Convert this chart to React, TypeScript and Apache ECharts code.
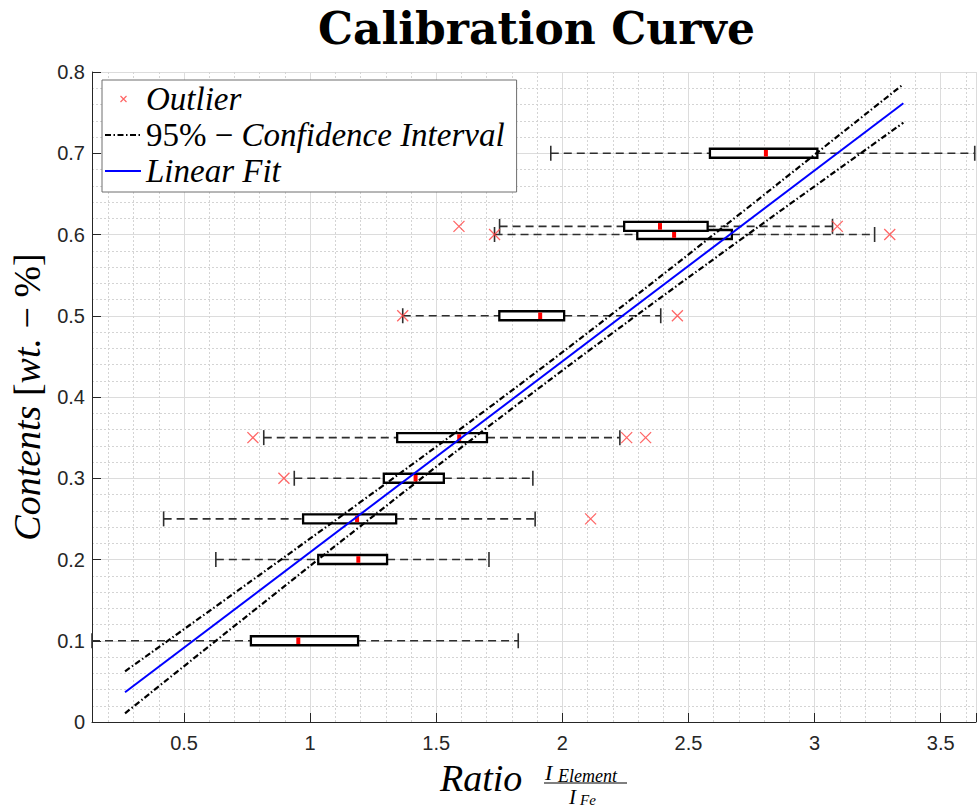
import React, { useEffect, useRef } from "react";
import * as echarts from "echarts";

// ---- data ----
const levels = [0.1, 0.2, 0.25, 0.3, 0.35, 0.5, 0.6, 0.61, 0.7];
const whiskerLow = [0.135, 0.626, 0.419, 0.937, 0.816, 1.367, 1.731, 1.751, 1.954];
const q1 = [0.765, 1.032, 0.972, 1.292, 1.345, 1.75, 2.297, 2.245, 2.585];
const medians = [0.953, 1.191, 1.186, 1.418, 1.591, 1.912, 2.443, 2.387, 2.807];
const q3 = [1.19, 1.305, 1.341, 1.53, 1.701, 2.007, 2.672, 2.576, 3.011];
const whiskerHigh = [1.825, 1.709, 1.892, 1.883, 2.228, 2.39, 3.238, 3.071, 3.635];

const outlierX = [0.773, 2.255, 2.33, 0.896, 2.112, 1.367, 2.456, 1.731, 3.298, 1.59, 3.09];
const outlierY = [0.35, 0.35, 0.35, 0.3, 0.25, 0.5, 0.5, 0.6, 0.6, 0.61, 0.61];

const fitX = [0.266, 3.352];
const fitY = [0.0366, 0.7615];

const ciX = [0.266, 0.7, 1.2, 1.7, 2.2, 2.7, 3.0, 3.352];
const ciUpper = [0.0624, 0.1588, 0.2708, 0.3848, 0.5028, 0.6244, 0.6983, 0.785];
const ciLower = [0.0107, 0.1182, 0.2412, 0.362, 0.479, 0.5922, 0.6593, 0.7376];

const xTickLabels = [0.5, 1, 1.5, 2, 2.5, 3, 3.5];
const yTickLabels = [0, 0.1, 0.2, 0.3, 0.4, 0.5, 0.6, 0.7, 0.8];

const NAME_OUTLIER = "Outlier";
const NAME_CI = "95% − Confidence Interval";
const NAME_FIT = "Linear Fit";

const SERIF = "'Liberation Serif', 'DejaVu Serif', serif";
const SANS = "'Liberation Sans', Arial, Helvetica, sans-serif";

export default function App() {
  const ref = useRef<HTMLDivElement>(null);

  useEffect(() => {
    if (!ref.current) return;
    const chart = echarts.init(ref.current, null, { renderer: "svg" });

    const boxData = levels.map((l, i) => [l, whiskerLow[i], q1[i], medians[i], q3[i], whiskerHigh[i]]);
    const outlierData = outlierX.map((x, i) => [x, outlierY[i]]);
    const fitData = fitX.map((x, i) => [x, fitY[i]]);
    const ciUpData = ciX.map((x, i) => [x, ciUpper[i]]);
    const ciLoData = ciX.map((x, i) => [x, ciLower[i]]);

    const isTick = (v: number, list: number[]) => list.some((t) => Math.abs(t - v) < 1e-6);

    const whiskerStyle = { stroke: "#2e2e2e", lineWidth: 1.6, lineDash: [8, 5] };
    const capStyle = { stroke: "#2e2e2e", lineWidth: 1.6 };
    const ciLine = { color: "#000000", width: 2.2, type: [6, 2.5, 1.5, 2.5] };

    const option: any = {
      animation: false,
      backgroundColor: "#ffffff",
      title: {
        text: "Calibration Curve",
        left: 531.5,
        top: 1,
        textAlign: "center",
        textStyle: {
          fontFamily: "'DejaVu Serif', serif",
          fontWeight: "bold",
          fontSize: 44,
          color: "#000000",
        },
      },
      grid: { left: 92, right: 1, top: 72, bottom: 85, containLabel: false },
      legend: {
        orient: "vertical",
        left: 102,
        top: 80,
        padding: [1, 12, 3, 2],
        itemGap: 0,
        itemWidth: 36,
        itemHeight: 14,
        backgroundColor: "#ffffff",
        borderColor: "#6e6e6e",
        borderWidth: 1,
        borderRadius: 0,
        selectedMode: false,
        data: [
          {
            name: NAME_OUTLIER,
            icon: "path://M0,0M36,14M15.5,4L21.5,10M21.5,4L15.5,10",
            itemStyle: { color: "rgba(0,0,0,0)", borderColor: "#ff4040", borderWidth: 1.2 },
          },
          { name: NAME_CI, itemStyle: { opacity: 0 } },
          { name: NAME_FIT, itemStyle: { opacity: 0 } },
        ],
        formatter: (name: string) => {
          if (name === NAME_OUTLIER) return "{i|Outlier}";
          if (name === NAME_CI) return "{r|95% − }{i|Confidence Interval}";
          return "{i|Linear Fit}";
        },
        textStyle: {
          color: "#000000",
          lineHeight: 36,
          rich: {
            i: { fontFamily: SERIF, fontStyle: "italic", fontSize: 33, lineHeight: 36, color: "#000" },
            r: { fontFamily: SERIF, fontSize: 33, lineHeight: 36, color: "#000" },
          },
        },
      },
      xAxis: {
        type: "value",
        min: 0.135,
        max: 3.64,
        splitNumber: 7,
        minInterval: 0.5,
        maxInterval: 0.5,
        axisLine: { show: true, lineStyle: { color: "#262626", width: 1 } },
        axisTick: { show: true, inside: true, length: 9, lineStyle: { color: "#262626" } },
        axisLabel: {
          margin: 11,
          fontFamily: SANS,
          fontSize: 20,
          color: "#262626",
          formatter: (v: number) => (isTick(v, xTickLabels) ? String(v) : ""),
        },
        splitLine: { show: true, lineStyle: { color: "#dcdcdc", width: 1 } },
        minorTick: { show: false, splitNumber: 5 },
        minorSplitLine: { show: true, lineStyle: { color: "#d4d4d4", width: 1, type: [2, 2] } },
      },
      yAxis: {
        type: "value",
        min: 0,
        max: 0.8,
        interval: 0.1,
        name: "{i|Contents }{r|[}{i|wt.}{r| − %]}",
        nameLocation: "middle",
        nameRotate: 90,
        nameGap: 44,
        nameTextStyle: {
          rich: {
            i: { fontFamily: SERIF, fontStyle: "italic", fontSize: 38, color: "#000" },
            r: { fontFamily: SERIF, fontSize: 38, color: "#000" },
          },
        },
        axisLine: { show: true, lineStyle: { color: "#262626", width: 1 } },
        axisTick: { show: true, inside: true, length: 9, lineStyle: { color: "#262626" } },
        axisLabel: {
          margin: 7,
          fontFamily: SANS,
          fontSize: 20,
          color: "#262626",
          formatter: (v: number) => (isTick(v, yTickLabels) ? String(v) : ""),
        },
        splitLine: { show: true, lineStyle: { color: "#dcdcdc", width: 1 } },
        minorTick: { show: false, splitNumber: 5 },
        minorSplitLine: { show: true, lineStyle: { color: "#d4d4d4", width: 1, type: [2, 2] } },
      },
      graphic: [
        {
          type: "group",
          children: [
            {
              type: "text",
              x: 440,
              y: 778,
              style: {
                text: "Ratio",
                font: `italic 38px ${SERIF}`,
                fill: "#000",
                align: "left",
                verticalAlign: "middle",
              },
            },
            {
              type: "text",
              x: 545,
              y: 772,
              style: { text: "I", font: `italic 22px ${SERIF}`, fill: "#000", align: "left", verticalAlign: "middle" },
            },
            {
              type: "text",
              x: 558,
              y: 775.5,
              style: { text: "Element", font: `italic 18px ${SERIF}`, fill: "#000", align: "left", verticalAlign: "middle" },
            },
            {
              type: "line",
              shape: { x1: 544, y1: 783, x2: 627, y2: 783 },
              style: { stroke: "#000", lineWidth: 1.2 },
            },
            {
              type: "text",
              x: 569,
              y: 796.5,
              style: { text: "I", font: `italic 21px ${SERIF}`, fill: "#000", align: "left", verticalAlign: "middle" },
            },
            {
              type: "text",
              x: 580,
              y: 800,
              style: { text: "Fe", font: `italic 15px ${SERIF}`, fill: "#000", align: "left", verticalAlign: "middle" },
            },
          ],
        },
      ],
      series: [
        {
          type: "custom",
          name: "boxes",
          z: 2,
          clip: false,
          encode: { x: [1, 2, 3, 4, 5], y: 0 },
          data: boxData,
          renderItem: (params: any, api: any) => {
            const lvl = api.value(0);
            const wl = api.coord([api.value(1), lvl]);
            const b1 = api.coord([api.value(2), lvl]);
            const md = api.coord([api.value(3), lvl]);
            const b3 = api.coord([api.value(4), lvl]);
            const wh = api.coord([api.value(5), lvl]);
            const y = wl[1];
            const hb = 4.5;
            const hc = 7.5;
            return {
              type: "group",
              children: [
                { type: "line", shape: { x1: wl[0], y1: y, x2: b1[0], y2: y }, style: whiskerStyle },
                { type: "line", shape: { x1: b3[0], y1: y, x2: wh[0], y2: y }, style: whiskerStyle },
                { type: "line", shape: { x1: wl[0], y1: y - hc, x2: wl[0], y2: y + hc }, style: capStyle },
                { type: "line", shape: { x1: wh[0], y1: y - hc, x2: wh[0], y2: y + hc }, style: capStyle },
                {
                  type: "rect",
                  shape: { x: b1[0], y: y - hb, width: b3[0] - b1[0], height: 2 * hb },
                  style: { fill: "#ffffff", stroke: "#000000", lineWidth: 2.3 },
                },
                {
                  type: "line",
                  shape: { x1: md[0], y1: y - hb + 1.2, x2: md[0], y2: y + hb - 1.2 },
                  style: { stroke: "#ff0000", lineWidth: 4 },
                },
              ],
            };
          },
        },
        {
          type: "line",
          name: NAME_CI,
          z: 3,
          data: ciUpData,
          smooth: 0.4,
          symbol: "none",
          lineStyle: ciLine,
        },
        {
          type: "line",
          name: NAME_CI,
          z: 3,
          data: ciLoData,
          smooth: 0.4,
          symbol: "none",
          lineStyle: ciLine,
        },
        {
          type: "line",
          name: NAME_FIT,
          z: 4,
          data: fitData,
          symbol: "none",
          lineStyle: { color: "#0000ff", width: 2 },
        },
        {
          type: "scatter",
          name: NAME_OUTLIER,
          z: 5,
          data: outlierData,
          symbol: "path://M0,0L10,10M10,0L0,10",
          symbolSize: 11,
          itemStyle: { color: "rgba(0,0,0,0)", borderColor: "#ff4040", borderWidth: 1.3 },
        },
      ],
    };

    chart.setOption(option);
    return () => chart.dispose();
  }, []);

  return (
    <div
      ref={ref}
      style={{ position: "absolute", left: 0, top: 0, width: 979, height: 807, background: "#ffffff" }}
    />
  );
}
